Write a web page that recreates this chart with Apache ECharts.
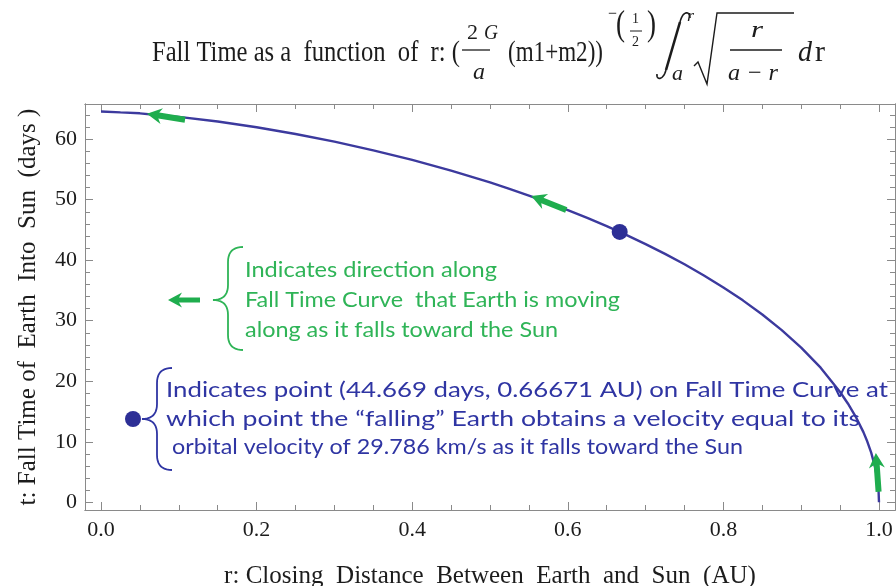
<!DOCTYPE html>
<html><head><meta charset="utf-8">
<script src="https://cdn.jsdelivr.net/npm/echarts@6/dist/echarts.min.js"></script>
<style>html,body{margin:0;padding:0;background:#fff}#c{width:896px;height:586px}</style>
</head><body><div id="c"></div>
<script>
// ---- data ----
const rValues = [0, 0.025, 0.05, 0.075, 0.1, 0.15, 0.2, 0.25, 0.3, 0.35, 0.4, 0.45, 0.5, 0.525, 0.55, 0.575, 0.6, 0.625, 0.65, 0.675, 0.7, 0.725, 0.75, 0.775, 0.8, 0.825, 0.85, 0.875, 0.9, 0.925, 0.95, 0.96, 0.97, 0.98, 0.985, 0.99, 0.995, 0.998, 0.9995, 1.0];
const tValues = [64.57, 64.41, 64.26, 63.94, 63.67, 62.90, 61.95, 60.85, 59.58, 58.15, 56.56, 54.80, 52.84, 51.77, 50.68, 49.51, 48.28, 46.99, 45.63, 44.19, 42.66, 41.05, 39.32, 37.48, 35.50, 33.36, 31.03, 28.45, 25.56, 22.24, 18.23, 16.33, 14.17, 11.59, 10.04, 8.21, 5.81, 3.68, 1.84, 0];
const markedPoint = [0.66671, 44.669];
const xMajorTicks = [0, 0.2, 0.4, 0.6, 0.8, 1.0];
const xMinorTicks = [0.05, 0.1, 0.15, 0.25, 0.3, 0.35, 0.45, 0.5, 0.55, 0.65, 0.7, 0.75, 0.85, 0.9, 0.95];
const yMajorTicks = [0, 10, 20, 30, 40, 50, 60];
const yMinorTicks = [2, 4, 6, 8, 12, 14, 16, 18, 22, 24, 26, 28, 32, 34, 36, 38, 42, 44, 46, 48, 52, 54, 56, 58, 62, 64];
// arrows along the curve: [fromR, fromT, toR, toT]
const curveArrows = [[0.108, 63.2, 0.059, 64.2], [0.598, 48.3, 0.553, 50.6], [0.9995, 1.75, 0.996, 8.15]];
const xRange = [-0.0206, 1.0206];
const yRange = [-1.27, 65.8];

const xTitle = 'r: Closing  Distance  Between  Earth  and  Sun  (AU)';
const yTitle = 't: Fall Time of  Earth  Into  Sun  (days )';
const greenNote = ['Indicates direction along', 'Fall Time Curve  that Earth is moving', 'along as it falls toward the Sun'];
const blueNote = ['Indicates point (44.669 days, 0.66671 AU) on Fall Time Curve at', 'which point the \u201cfalling\u201d Earth obtains a velocity equal to its', ' orbital velocity of 29.786 km/s as it falls toward the Sun'];

// ---- styling ----
const serif = '"Liberation Serif","Times New Roman",serif';
const sans = 'Lato,"Open Sans",sans-serif';
const frameColor = '#8a8a8a';
const curveColor = '#3c3a9e';
const dotColor = '#2d2f96';
const green = '#1fad4e';
const greenText = '#2fb457';
const blueText = '#2f35a3';
const ink = '#1c1c1c';

const mctx = document.createElement('canvas').getContext('2d');
function measure(s, size, family, italic) {
  mctx.font = (italic ? 'italic ' : '') + size + 'px ' + family;
  return mctx.measureText(s).width;
}

const chart = echarts.init(document.getElementById('c'), null, {renderer: 'canvas'});

function xAxisDef(pos, ticks, len, labels) {
  return {
    type: 'value', position: pos, min: xRange[0], max: xRange[1],
    axisLine: {show: true, onZero: false, lineStyle: {color: frameColor, width: 1}},
    axisTick: {show: true, inside: true, length: len, customValues: ticks, lineStyle: {color: frameColor, width: 1}},
    axisLabel: labels ? {show: true, customValues: ticks, margin: 9, fontFamily: serif, fontSize: 22, color: ink,
      formatter: v => v.toFixed(1)} : {show: false},
    splitLine: {show: false}
  };
}
function yAxisDef(pos, ticks, len, labels) {
  return {
    type: 'value', position: pos, min: yRange[0], max: yRange[1],
    axisLine: {show: true, onZero: false, lineStyle: {color: frameColor, width: 1}},
    axisTick: {show: true, inside: true, length: len, customValues: ticks, lineStyle: {color: frameColor, width: 1}},
    axisLabel: labels ? {show: true, customValues: ticks, margin: 8, fontFamily: serif, fontSize: 22, color: ink,
      formatter: v => String(v)} : {show: false},
    splitLine: {show: false}
  };
}

const xNameSize = 22 * 532 / measure(xTitle, 22, serif);
const yNameSize = 22 * 397 / measure(yTitle, 22, serif);

const xA = [xAxisDef('bottom', xMajorTicks, 8, true), xAxisDef('bottom', xMinorTicks, 5, false),
            xAxisDef('top', xMajorTicks, 8, false), xAxisDef('top', xMinorTicks, 5, false)];
Object.assign(xA[0], {name: xTitle, nameLocation: 'middle', nameGap: 54,
  nameTextStyle: {fontFamily: serif, fontSize: xNameSize, color: ink}});
const yA = [yAxisDef('left', yMajorTicks, 8, true), yAxisDef('left', yMinorTicks, 5, false),
            yAxisDef('right', yMajorTicks, 8, false), yAxisDef('right', yMinorTicks, 5, false)];
Object.assign(yA[0], {name: yTitle, nameLocation: 'middle', nameGap: 44, nameRotate: 90,
  nameTextStyle: {fontFamily: serif, fontSize: yNameSize, color: ink}});

function arrowPoints(p1, p2, shaftW, headW, headL) {
  const dx = p2[0] - p1[0], dy = p2[1] - p1[1];
  const L = Math.hypot(dx, dy) || 1;
  const ux = dx / L, uy = dy / L, nx = -uy, ny = ux;
  const bx = p2[0] - ux * headL, by = p2[1] - uy * headL;
  const bbx = bx + ux * 3, bby = by + uy * 3;
  return [
    [p1[0] + nx * shaftW / 2, p1[1] + ny * shaftW / 2],
    [bbx + nx * shaftW / 2, bby + ny * shaftW / 2],
    [bx + nx * headW / 2, by + ny * headW / 2],
    [p2[0], p2[1]],
    [bx - nx * headW / 2, by - ny * headW / 2],
    [bbx - nx * shaftW / 2, bby - ny * shaftW / 2],
    [p1[0] - nx * shaftW / 2, p1[1] - ny * shaftW / 2]
  ];
}

function quad(p0, c, p1, out) {
  for (let i = 0; i <= 10; i++) {
    const s = i / 10, u = 1 - s;
    out.push([u * u * p0[0] + 2 * u * s * c[0] + s * s * p1[0], u * u * p0[1] + 2 * u * s * c[1] + s * s * p1[1]]);
  }
}
function bracePoints(xe, xv, xc, top, mid, bot) {
  const a = xe - xv, b = xv - xc, pts = [];
  quad([xe, top], [xv, top], [xv, top + a], pts);
  quad([xv, mid - b], [xv, mid], [xc, mid], pts);
  quad([xc, mid], [xv, mid], [xv, mid + b], pts);
  quad([xv, bot - a], [xv, bot], [xe, bot], pts);
  return pts;
}

// text placed by its left edge and fitted to the width it has in the reference
function fit(x1, x2, y, s, size, o) {
  o = o || {};
  const fam = o.ff || serif;
  const w = measure(s, size, fam, o.it);
  return {type: 'text', x: x1, y: y, scaleX: (x2 - x1) / w, z: 100,
    style: {text: s, fontFamily: fam, fontSize: size, fontStyle: o.it ? 'italic' : 'normal',
      fill: o.fill || ink, align: 'left', verticalAlign: 'middle'}};
}
function ln(x1, y1, x2, y2, w, c) {
  return {type: 'line', z: 100, shape: {x1, y1, x2, y2}, style: {stroke: c || ink, lineWidth: w || 1.3}};
}
function curve(pts, w, c) {
  return {type: 'polyline', z: 100, shape: {points: pts}, style: {stroke: c || ink, lineWidth: w || 1.3, fill: null}};
}
function cubic(p0, c1, c2, p1) {
  const out = [];
  for (let i = 0; i <= 16; i++) {
    const s = i / 16, u = 1 - s;
    out.push([u*u*u*p0[0] + 3*u*u*s*c1[0] + 3*u*s*s*c2[0] + s*s*s*p1[0],
              u*u*u*p0[1] + 3*u*u*s*c1[1] + 3*u*s*s*c2[1] + s*s*s*p1[1]]);
  }
  return out;
}

const graphics = [
  // title formula
  fit(152, 460, 53, 'Fall Time as a  function  of  r: (', 30),
  ln(462, 50, 490, 50),
  fit(467, 478, 33, '2', 22), fit(484, 498, 33, 'G', 22, {it: true}),
  fit(473, 485, 73, 'a', 24, {it: true}),
  fit(508, 603, 53, '(m1+m2))', 30),
  fit(608, 617, 14, '\u2212', 18),
  fit(616, 625, 26, '(', 36),
  fit(632, 639, 19, '1', 15), ln(630, 31, 642, 31, 1), fit(632, 639, 42, '2', 15),
  fit(647, 656, 26, ')', 36),
  // integral sign
  curve(cubic([690, 18], [690, 11], [683, 10], [680, 22]), 1.6),
  curve([[680, 22], [666, 70]], 2.6),
  curve(cubic([666, 70], [663, 81], [656, 80], [657, 74]), 1.6),
  fit(687, 694, 17, 'r', 17, {it: true}),
  fit(672, 683, 74, 'a', 21, {it: true}),
  // square root
  curve([[694, 66], [698, 62], [707, 84], [717, 13], [794, 13]], 1.4),
  ln(730, 50, 782, 50),
  fit(751, 763, 31, 'r', 24, {it: true}),
  fit(728, 778, 74, 'a \u2212 r', 24, {it: true}),
  fit(798, 812, 53, 'd', 30, {it: true}), fit(815, 825, 53, 'r', 30),
  // green note
  {type: 'polygon', z: 90, shape: {points: arrowPoints([200, 300], [168, 300], 5, 15, 14)}, style: {fill: green}},
  curve(bracePoints(243, 228, 213, 247, 300, 350), 1.8, greenText),
  fit(245, 497, 270, greenNote[0], 21, {ff: sans, fill: greenText}),
  fit(245, 620, 300, greenNote[1], 21, {ff: sans, fill: greenText}),
  fit(245, 558, 330, greenNote[2], 21, {ff: sans, fill: greenText}),
  // blue note
  {type: 'circle', z: 90, shape: {cx: 133, cy: 419, r: 8}, style: {fill: dotColor}},
  curve(bracePoints(172, 157, 142, 368, 419, 470), 1.8, blueText),
  fit(166, 888, 390, blueNote[0], 20.5, {ff: sans, fill: blueText}),
  fit(166, 860, 419, blueNote[1], 20.5, {ff: sans, fill: blueText}),
  fit(166, 743, 447, blueNote[2], 20.5, {ff: sans, fill: blueText})
];

chart.setOption({
  animation: false,
  backgroundColor: '#fff',
  grid: {left: 85, right: 1, top: 104, bottom: 76, containLabel: false, outerBoundsMode: 'none'},
  xAxis: xA,
  yAxis: yA,
  graphic: graphics,
  series: [
    {type: 'line', xAxisIndex: 0, yAxisIndex: 0, data: rValues.map((r, i) => [r, tValues[i]]),
     showSymbol: false, symbol: 'none', smooth: false, lineStyle: {color: curveColor, width: 2.4}, z: 3},
    {type: 'custom', xAxisIndex: 0, yAxisIndex: 0, data: curveArrows, encode: {x: [0, 2], y: [1, 3]}, z: 4,
     renderItem: (params, api) => {
       const p1 = api.coord([api.value(0), api.value(1)]);
       const p2 = api.coord([api.value(2), api.value(3)]);
       return {type: 'polygon', shape: {points: arrowPoints(p1, p2, 6, 16, 15)}, style: {fill: green}};
     }},
    {type: 'scatter', xAxisIndex: 0, yAxisIndex: 0, data: [markedPoint], symbolSize: 16,
     itemStyle: {color: dotColor, opacity: 1}, z: 5}
  ]
});
</script></body></html>
